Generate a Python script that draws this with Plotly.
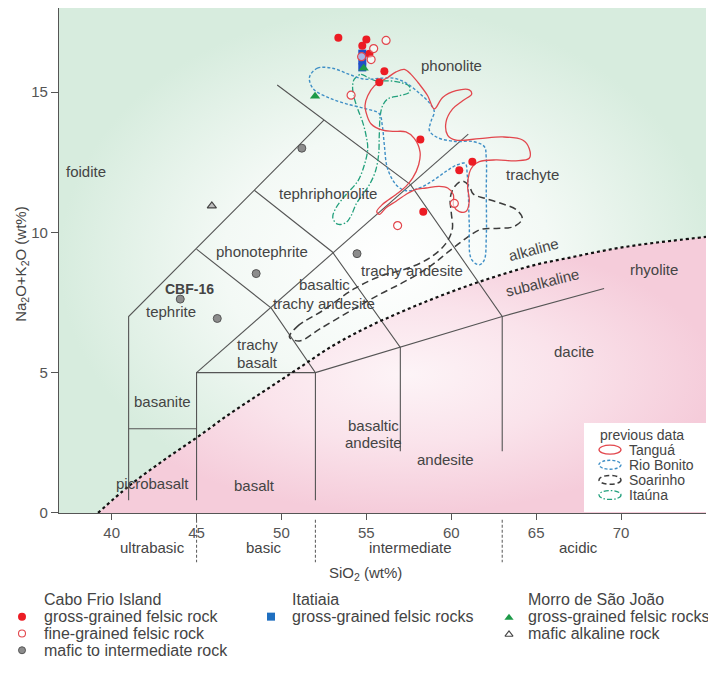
import plotly.graph_objects as go

# ---------------- data ----------------
# Cabo Frio Island
cf_coarse_sio2 = [53.35, 55.0, 54.76, 55.18, 56.06, 55.76, 58.18, 61.24, 60.47, 58.35]
cf_coarse_alk = [16.94, 16.87, 16.65, 16.37, 15.74, 15.35, 13.31, 12.52, 12.21, 10.73]
cf_fine_sio2 = [56.16, 55.43, 54.72, 55.28, 54.10, 60.18, 56.84]
cf_fine_alk = [16.84, 16.55, 16.26, 16.16, 14.89, 11.03, 10.24]
cf_mafic_sio2 = [51.2, 54.45, 48.51, 44.04, 46.22]
cf_mafic_alk = [13.0, 9.24, 8.53, 7.62, 6.93]
# Itatiaia
it_sio2 = [54.76, 54.76, 54.76]
it_alk = [16.37, 16.13, 15.88]
# Morro de São João
msj_felsic_sio2 = [51.98, 54.84]
msj_felsic_alk = [14.85, 15.85]
msj_mafic_sio2 = [45.9]
msj_mafic_alk = [10.94]

# previous data fields (outlines)
tangua_sio2 = [54.92, 55.08, 55.47, 56.26, 56.75, 57.24, 57.63, 58.12, 58.61, 59.00, 59.49, 60.28, 61.06, 61.20,
               60.67, 60.08, 59.69, 59.79, 60.28, 61.65, 63.02, 64.20, 64.59, 64.59, 63.80, 62.63, 61.65, 61.26,
               61.06, 60.96, 61.06, 60.86, 60.47, 60.14, 60.12, 59.79, 59.29, 58.51, 57.92, 57.33, 56.75, 56.16,
               55.77, 55.61, 55.96, 56.75, 57.33, 57.73, 58.08, 58.16, 57.82, 57.33, 56.55, 55.96, 55.27, 54.98, 54.92]
tangua_alk = [14.52, 14.87, 15.22, 15.52, 15.72, 15.81, 15.63, 15.28, 14.87, 14.40, 14.81, 15.05, 15.08, 14.93,
              14.69, 14.40, 13.93, 13.46, 13.29, 13.34, 13.40, 13.29, 12.99, 12.64, 12.55, 12.58, 12.52, 12.35,
              12.11, 11.64, 11.11, 10.74, 10.74, 10.94, 11.35, 11.58, 11.64, 11.58, 11.53, 11.35, 11.11, 10.88,
              10.64, 10.74, 11.00, 11.35, 11.64, 11.94, 12.41, 12.87, 13.35, 13.58, 13.60, 13.64, 13.87, 14.28, 14.52]

riobonito_sio2 = [51.65, 52.12, 53.00, 54.00, 54.88, 55.76, 56.65, 57.35, 58.12, 58.76, 59.00, 58.82, 58.71, 59.18,
                  60.24, 61.24, 61.94, 62.06, 62.06, 62.06, 61.94, 61.65, 61.18, 61.06, 61.00, 60.94, 60.82, 60.29,
                  59.71, 58.88, 58.12, 57.35, 56.76, 56.24, 56.06, 55.94, 55.76, 55.00, 53.82, 52.82, 51.88, 51.65]
riobonito_alk = [15.53, 15.85, 15.85, 15.63, 15.46, 15.49, 15.49, 15.32, 14.96, 14.58, 14.30, 13.98, 13.63, 13.38,
                 13.24, 13.24, 13.06, 12.64, 11.48, 9.82, 9.01, 8.84, 9.05, 10.28, 11.48, 12.04, 12.46, 12.39,
                 12.18, 11.83, 11.58, 11.48, 11.69, 12.29, 13.10, 13.80, 14.23, 14.40, 14.58, 14.79, 15.11, 15.53]

soarinho_sio2 = [50.47, 50.94, 52.53, 54.29, 55.88, 57.35, 58.71, 59.65, 60.06, 60.00, 59.94, 60.18, 60.65, 61.06,
                 61.29, 62.06, 63.00, 63.82, 64.18, 63.71, 62.65, 61.76, 60.94, 59.88, 58.71, 57.24, 55.76, 54.00,
                 52.24, 51.06, 50.47]
soarinho_alk = [6.27, 6.65, 7.25, 7.99, 8.45, 8.70, 9.08, 9.58, 10.11, 10.70, 11.23, 11.62, 11.83, 11.65,
                11.37, 11.20, 11.02, 10.81, 10.49, 10.21, 10.14, 10.11, 9.82, 9.33, 8.77, 8.24, 7.78, 7.18,
                6.55, 6.13, 6.27]

itauna_sio2 = [54.29, 54.69, 55.08, 55.57, 56.35, 57.04, 57.53, 57.53, 56.94, 56.25, 55.96, 55.82, 55.76, 55.72,
               55.53, 55.18, 54.78, 54.39, 54.10, 53.81, 53.31, 53.02, 53.22, 53.81, 54.49, 54.88, 55.08, 54.98,
               54.78, 54.49, 54.25, 54.19, 54.29]
itauna_alk = [15.46, 15.63, 15.52, 15.40, 15.40, 15.34, 15.20, 14.99, 14.87, 14.75, 14.52, 14.17, 13.46, 12.76,
              12.17, 11.70, 11.35, 11.00, 10.59, 10.35, 10.29, 10.53, 10.88, 11.35, 11.82, 12.40, 12.99, 13.46,
              13.93, 14.40, 14.87, 15.22, 15.46]

# alkaline / subalkaline divide
divide_sio2 = [39.2, 41, 43, 45, 47, 49, 51, 53, 55, 57, 59, 61, 63, 65, 67, 69, 71, 73, 75.5]
divide_alk = [0, 0.95, 1.85, 2.68, 3.55, 4.35, 5.15, 5.95, 6.6, 7.15, 7.65, 8.1, 8.5, 8.85, 9.1, 9.35, 9.55, 9.7, 9.87]

# TAS field boundaries (SiO2, Na2O+K2O) polylines
tas_lines = [
    [(41, 0.45), (41, 7), (52.5, 14)],
    [(49.75, 15.25), (52.5, 14), (57.6, 11.7), (63, 7), (63, 2.2)],
    [(41, 3), (45, 3)],
    [(45, 0.45), (45, 5), (52, 5), (57, 5.9), (63, 7), (69, 8)],
    [(45, 5), (61, 13.5)],
    [(45, 9.4), (49.4, 7.3), (52, 5), (52, 0.45)],
    [(48.4, 11.5), (53, 9.3), (57, 5.9), (57, 2.2)],
]

# field names
field_names = ["phonolite", "foidite", "tephriphonolite", "trachyte", "phonotephrite", "tephrite",
               "basaltic", "trachy andesite", "trachy andesite", "trachy", "basalt", "basanite",
               "picrobasalt", "basalt", "basaltic", "andesite", "andesite", "dacite", "rhyolite"]
field_sio2 = [60.0, 38.5, 52.76, 64.76, 48.88, 43.47, 52.53, 52.53, 57.71, 48.6, 48.6, 43.0,
              42.38, 48.41, 55.4, 55.4, 59.65, 67.24, 71.94]
field_alk = [15.95, 12.18, 11.37, 12.05, 9.33, 7.18, 8.13, 7.48, 8.65, 6.01, 5.36, 3.98,
             1.06, 0.99, 3.1, 2.5, 1.9, 5.77, 8.66]

silica_classes = ["ultrabasic", "basic", "intermediate", "acidic"]
silica_class_pos = [42.4, 49.0, 57.6, 67.5]
silica_class_bounds = [45, 52, 63]

x_ticks = [40, 45, 50, 55, 60, 65, 70]
y_ticks = [0, 5, 10, 15]

# ---------------- figure ----------------
W, H = 708, 679
X_RANGE = [36.9, 75]
Y_RANGE = [0, 18]
GRID = "#555555"
TXT = "#444444"
FONT = "Liberation Sans, Arial, sans-serif"

fig = go.Figure()

# background: alkaline (green) and subalkaline (pink) domains
green_x = [X_RANGE[0]] + divide_sio2 + [divide_sio2[-1], X_RANGE[0]]
green_y = [0] + divide_alk + [Y_RANGE[1], Y_RANGE[1]]
fig.add_trace(go.Scatter(
    x=green_x, y=green_y, mode="lines", fill="toself", line=dict(width=0),
    fillgradient=dict(type="radial", colorscale=[[0, "#ffffff"], [0.5, "#f3f9f5"], [1, "#d7ecde"]]),
    hoverinfo="skip", showlegend=False))
pink_x = divide_sio2 + [divide_sio2[-1]]
pink_y = divide_alk + [0]
fig.add_trace(go.Scatter(
    x=pink_x, y=pink_y, mode="lines", fill="toself", line=dict(width=0),
    fillgradient=dict(type="radial", colorscale=[[0, "#fdf4f7"], [0.5, "#fae3eb"], [1, "#f5ccda"]]),
    hoverinfo="skip", showlegend=False))

# TAS boundaries
for seg in tas_lines:
    fig.add_trace(go.Scatter(
        x=[p[0] for p in seg], y=[p[1] for p in seg], mode="lines",
        line=dict(color=GRID, width=1.1), hoverinfo="skip", showlegend=False))

# alkaline / subalkaline divide
fig.add_trace(go.Scatter(
    x=divide_sio2, y=divide_alk, mode="lines", line=dict(color="#111111", width=2.2, dash="dot", shape="spline"),
    hoverinfo="skip", showlegend=False))

# previous data outlines
outline_styles = [
    (soarinho_sio2, soarinho_alk, "#3c3c3c", "7px,4px", 1.5),
    (itauna_sio2, itauna_alk, "#22a07c", "6px,2px,1.5px,2px", 1.3),
    (riobonito_sio2, riobonito_alk, "#3f8fc6", "3px,2px", 1.4),
    (tangua_sio2, tangua_alk, "#e2474d", "solid", 1.3),
]
for xs, ys, col, dash, w in outline_styles:
    fig.add_trace(go.Scatter(
        x=xs, y=ys, mode="lines", line=dict(color=col, width=w, dash=dash, shape="spline", smoothing=1.0),
        hoverinfo="skip", showlegend=False))

# samples
fig.add_trace(go.Scatter(x=it_sio2, y=it_alk, mode="markers",
                         marker=dict(symbol="square", size=8, color="#1f4fc8", line=dict(width=0)),
                         showlegend=False))
fig.add_trace(go.Scatter(x=cf_coarse_sio2, y=cf_coarse_alk, mode="markers",
                         marker=dict(symbol="circle", size=8, color="#ec1c24", line=dict(width=0)),
                         showlegend=False))
fig.add_trace(go.Scatter(x=cf_fine_sio2, y=cf_fine_alk, mode="markers",
                         marker=dict(symbol="circle", size=8, color="rgba(255,255,255,0.6)",
                                     line=dict(width=1.2, color="#e2474d")),
                         showlegend=False))
fig.add_trace(go.Scatter(x=cf_mafic_sio2, y=cf_mafic_alk, mode="markers",
                         marker=dict(symbol="circle", size=8, color="#8c8c8c", line=dict(width=1, color="#555555")),
                         showlegend=False))
fig.add_trace(go.Scatter(x=msj_felsic_sio2, y=msj_felsic_alk, mode="markers",
                         marker=dict(symbol="triangle-up", size=9, color="#1d9a48", line=dict(width=0)),
                         showlegend=False))
fig.add_trace(go.Scatter(x=msj_mafic_sio2, y=msj_mafic_alk, mode="markers",
                         marker=dict(symbol="triangle-up", size=8, color="#bdbdbd", line=dict(width=1.2, color="#444444")),
                         showlegend=False))

annotations = []
for name, sx, sy in zip(field_names, field_sio2, field_alk):
    annotations.append(dict(x=sx, y=sy, xref="x", yref="y", text=name, showarrow=False,
                            font=dict(family=FONT, size=15, color=TXT)))
annotations.append(dict(x=44.59, y=7.97, xref="x", yref="y", text="<b>CBF-16</b>", showarrow=False,
                        font=dict(family=FONT, size=14, color=TXT)))
annotations.append(dict(x=64.82, y=9.4, xref="x", yref="y", text="alkaline", showarrow=False, textangle=-15,
                        font=dict(family=FONT, size=15, color=TXT)))
annotations.append(dict(x=65.35, y=8.2, xref="x", yref="y", text="subalkaline", showarrow=False, textangle=-14,
                        font=dict(family=FONT, size=15, color=TXT)))

# silica classes below the axis
for name, sx in zip(silica_classes, silica_class_pos):
    annotations.append(dict(x=sx, y=1 - 554 / H, xref="x", yref="paper", text=name, showarrow=False,
                            xanchor="center", yanchor="middle",
                            font=dict(family=FONT, size=15, color=TXT)))
shapes = []
for b in silica_class_bounds:
    shapes.append(dict(type="line", xref="x", yref="paper", x0=b, x1=b, y0=1 - 526 / H, y1=1 - 569 / H,
                       line=dict(color="#666666", width=1.1, dash="3px,2px")))

# axis titles
annotations.append(dict(x=366 / W, y=1 - 580 / H, xref="paper", yref="paper", text="SiO<sub>2</sub> (wt%)",
                        xanchor="center", yanchor="middle",
                        showarrow=False, font=dict(family=FONT, size=15, color=TXT)))
annotations.append(dict(x=22 / W, y=1 - 268 / H, xref="paper", yref="paper",
                        text="Na<sub>2</sub>O+K<sub>2</sub>O (wt%)", textangle=-90,
                        xanchor="center", yanchor="middle",
                        showarrow=False, font=dict(family=FONT, size=15, color=TXT)))

# previous data key (pixel frame x2/y2)
shapes.append(dict(type="rect", xref="x2", yref="y2", x0=584, x1=710, y0=428, y1=518,
                   fillcolor="white", line=dict(width=0), layer="above"))
annotations.append(dict(x=598, y=440, xref="x2", yref="y2", text="previous data", xanchor="left", showarrow=False,
                        font=dict(family=FONT, size=14, color=TXT)))
key_names = ["Tanguá", "Rio Bonito", "Soarinho", "Itaúna"]
key_styles = [("#e2474d", "solid", 1.3), ("#3f8fc6", "3px,2px", 1.4), ("#3c3c3c", "5px,3px", 1.5),
              ("#22a07c", "5px,2px,1.5px,2px", 1.3)]
for i, (nm, (col, dash, w)) in enumerate(zip(key_names, key_styles)):
    yc = 455 + i * 15.3
    shapes.append(dict(type="circle", xref="x2", yref="y2", x0=599, x1=621, y0=yc - 4.5, y1=yc + 4.5,
                       line=dict(color=col, width=w, dash=dash), layer="above"))
    annotations.append(dict(x=627, y=yc, xref="x2", yref="y2", text=nm, xanchor="left", showarrow=False,
                            font=dict(family=FONT, size=14, color=TXT)))

# sample key below the chart (pixel frame x2/y2)
key_groups = [
    (42, "Cabo Frio Island", ["gross-grained felsic rock", "fine-grained felsic rock", "mafic to intermediate rock"]),
    (290, "Itatiaia", ["gross-grained felsic rocks"]),
    (526, "Morro de São João", ["gross-grained felsic rocks", "mafic alkaline rock"]),
]
row_y = [607, 624, 641, 658]
for gx, head, items in key_groups:
    annotations.append(dict(x=gx, y=row_y[0], xref="x2", yref="y2", text=head, xanchor="left", showarrow=False,
                            font=dict(family=FONT, size=16, color=TXT)))
    for j, it in enumerate(items):
        annotations.append(dict(x=gx, y=row_y[j + 1], xref="x2", yref="y2", text=it, xanchor="left",
                                showarrow=False, font=dict(family=FONT, size=16, color=TXT)))

key_marks = [
    (22, row_y[1], "circle", 8, "#ec1c24", 0, "#ec1c24"),
    (22, row_y[2], "circle", 7, "white", 1.1, "#e2474d"),
    (22, row_y[3], "circle", 7, "#8c8c8c", 1, "#555555"),
    (271, row_y[1], "square", 8, "#1f6fc0", 0, "#1f6fc0"),
    (509, row_y[1] + 1, "triangle-up", 8, "#1d9a48", 0, "#1d9a48"),
    (509, row_y[2] + 1, "triangle-up", 7, "white", 1.1, "#444444"),
]
for kx, ky, sym, sz, fc, lw, lc in key_marks:
    fig.add_trace(go.Scatter(x=[kx], y=[ky], xaxis="x2", yaxis="y2", mode="markers",
                             marker=dict(symbol=sym, size=sz, color=fc, line=dict(width=lw, color=lc)),
                             hoverinfo="skip", showlegend=False, cliponaxis=False))

fig.update_layout(
    width=W, height=H, margin=dict(l=0, r=0, t=0, b=0),
    paper_bgcolor="white", plot_bgcolor="rgba(0,0,0,0)", showlegend=False,
    xaxis=dict(domain=[59 / W, 706 / W], range=X_RANGE, tickvals=x_ticks, ticks="outside", ticklen=6,
               tickcolor=GRID, tickwidth=1, showline=True, linecolor=GRID, linewidth=1.3, showgrid=False,
               zeroline=False, tickfont=dict(family=FONT, size=15, color="#555555"), anchor="y"),
    yaxis=dict(domain=[1 - 519 / H, 1 - 8 / H], range=Y_RANGE, tickvals=y_ticks, ticks="outside", ticklen=7,
               tickcolor=GRID, tickwidth=1, showline=True, linecolor=GRID, linewidth=1.3, showgrid=False,
               zeroline=False, tickfont=dict(family=FONT, size=15, color="#555555"), anchor="x"),
    xaxis2=dict(domain=[0, 1], range=[0, W], visible=False, anchor="y2", fixedrange=True),
    yaxis2=dict(domain=[0, 1], range=[H, 0], visible=False, anchor="x2", fixedrange=True),
    annotations=annotations, shapes=shapes,
)

fig.write_html("out.html")
